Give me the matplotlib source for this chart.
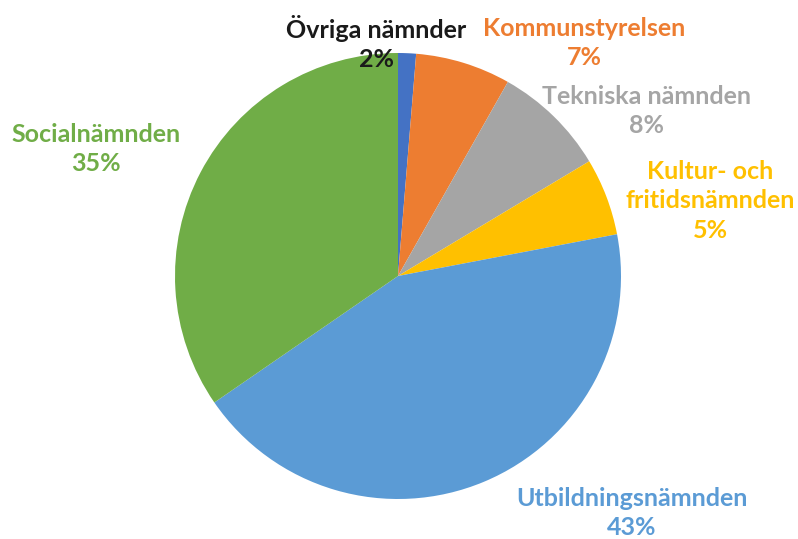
import matplotlib
matplotlib.use("Agg")
import matplotlib.pyplot as plt

categories = ["Övriga nämnder", "Kommunstyrelsen", "Tekniska nämnden",
              "Kultur- och\nfritidsnämnden", "Utbildningsnämnden", "Socialnämnden"]
values = [1.3, 6.9, 8.2, 5.6, 43.4, 34.6]
pct_labels = ["2%", "7%", "8%", "5%", "43%", "35%"]
colors = ["#4472C4", "#ED7D31", "#A5A5A5", "#FFC000", "#5B9BD5", "#70AD47"]
label_colors = ["#1a1a1a", "#ED7D31", "#A5A5A5", "#FFC000", "#5B9BD5", "#70AD47"]
# label anchor positions (pixel coords, top-left origin)
label_pos = [(376, 43), (584, 43), (647, 111), (710, 201), (632, 513), (96, 149)]

W, H = 798, 539
fig = plt.figure(figsize=(W / 100, H / 100), dpi=100)
ax = fig.add_axes([0, 0, 1, 1])

cx, cy, r = 398, H - 276, 223
ax.pie(values, colors=colors, startangle=90, counterclock=False,
       center=(cx, cy), radius=r, frame=True,
       wedgeprops=dict(linewidth=0))
ax.set_xlim(0, W)
ax.set_ylim(0, H)
ax.set_aspect("equal")
ax.axis("off")

for cat, pct, col, (x, y) in zip(categories, pct_labels, label_colors, label_pos):
    ax.text(x, H - y, cat + "\n" + pct, ha="center", va="center", color=col,
            fontsize=18, fontweight="bold", family="Lato", linespacing=1.32)

fig.savefig("out.png", dpi=100)
